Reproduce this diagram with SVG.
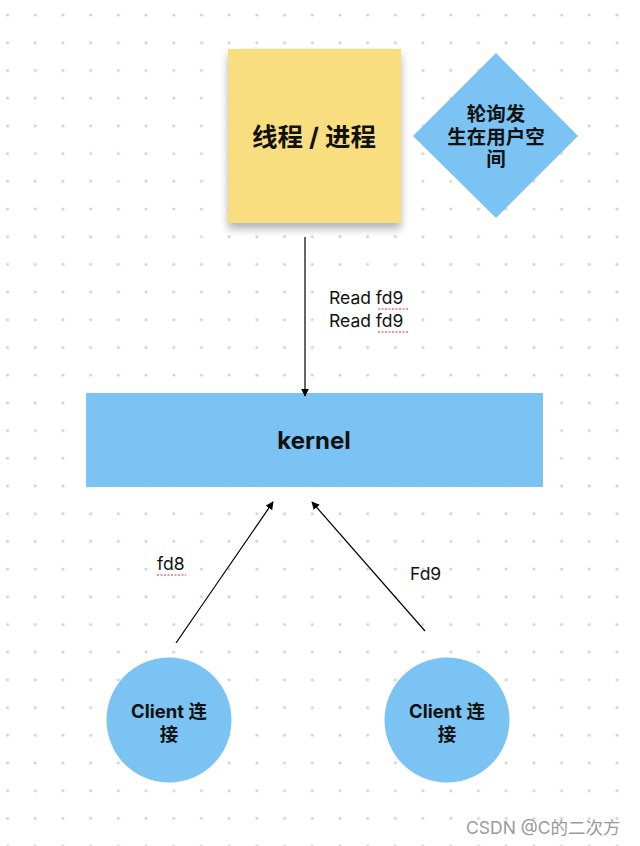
<svg xmlns="http://www.w3.org/2000/svg" width="640" height="846" viewBox="0 0 640 846">
<defs>
<pattern id="dots" x="-6.3" y="1.2" width="27.7" height="27.7" patternUnits="userSpaceOnUse">
<circle cx="13.85" cy="13.85" r="1.6" fill="#d2d2d2"/>
</pattern>
<filter id="shadow" x="-20%" y="-20%" width="140%" height="150%">
<feGaussianBlur in="SourceAlpha" stdDeviation="4"/>
<feOffset dx="0" dy="6" result="b"/>
<feComponentTransfer><feFuncA type="linear" slope="0.3"/></feComponentTransfer>
<feMerge><feMergeNode/><feMergeNode in="SourceGraphic"/></feMerge>
</filter>
<marker id="arr" viewBox="0 0 10 10" refX="9" refY="5" markerWidth="8" markerHeight="8" markerUnits="userSpaceOnUse" orient="auto">
<path d="M0,0 L10,5 L0,10 z" fill="#000"/>
</marker>
<style>
.t{font-family:Inter,"Noto Sans","Noto Sans CJK SC",sans-serif;fill:#111;}
.b{font-weight:bold;}
.lbl{font-family:Inter,"Noto Sans","Noto Sans CJK SC",sans-serif;font-size:17.5px;fill:#111;}
.conn{stroke:#000;stroke-width:1.2;fill:none;}
.sq{stroke:#e03030;stroke-width:1.2;stroke-dasharray:2 1.5;fill:none;}
.blue{fill:#7BC3F2;}
</style>
</defs>
<rect width="640" height="846" fill="#fff"/>
<rect width="640" height="846" fill="url(#dots)"/>

<g id="sticky">
<rect x="228" y="49" width="173" height="174" fill="#F9DE7F" filter="url(#shadow)"/>
<text class="t b" x="314" y="146" font-size="25.5" text-anchor="middle">线程 / 进程</text>
</g>

<g id="diamond">
<polygon class="blue" points="496,53 578,136 496,218 413,136"/>
<text class="t b" font-size="19.5" text-anchor="middle"><tspan x="496" y="121">轮询发</tspan><tspan x="496" y="144">生在用户空</tspan><tspan x="496" y="166">间</tspan></text>
</g>

<g id="kernel">
<rect class="blue" x="86" y="393" width="457" height="94"/>
<text class="t b" x="314" y="449" font-size="24" text-anchor="middle">kernel</text>
</g>

<g id="client1">
<circle class="blue" cx="169" cy="720" r="62.5"/>
<text class="t b" font-size="18.5" text-anchor="middle"><tspan x="169" y="718">Client 连</tspan><tspan x="169" y="741">接</tspan></text>
</g>

<g id="client2">
<circle class="blue" cx="447" cy="720" r="62.5"/>
<text class="t b" font-size="18.5" text-anchor="middle"><tspan x="447" y="718">Client 连</tspan><tspan x="447" y="741">接</tspan></text>
</g>

<g id="connectors">
<line class="conn" x1="305" y1="237" x2="305" y2="396" marker-end="url(#arr)"/>
<line class="conn" x1="176" y1="643" x2="273" y2="502" marker-end="url(#arr)"/>
<line class="conn" x1="425" y1="631" x2="312" y2="502" marker-end="url(#arr)"/>
</g>

<g id="labels">
<text class="lbl" x="329" y="304">Read fd9</text>
<text class="lbl" x="329" y="327">Read fd9</text>
<path class="sq" d="M378,309 H408 M378,332 H408"/>
<text class="lbl" x="157" y="570">fd8</text>
<path class="sq" d="M157,575 H186"/>
<text class="lbl" x="410" y="580">Fd9</text>
</g>

<text x="466" y="834" font-family="Inter,'Noto Sans','Noto Sans CJK SC',sans-serif" font-size="17.5" fill="#9a9a9a">CSDN @C的二次方</text>
</svg>
